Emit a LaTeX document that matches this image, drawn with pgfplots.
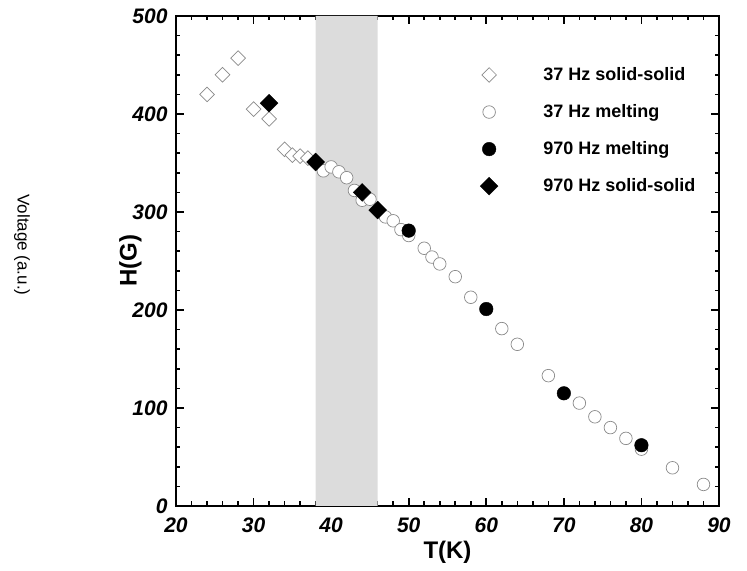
\documentclass[border=0pt]{standalone}
\usepackage{fontspec}
\setmainfont{Liberation Sans}
\usepackage{pgfplots}
\pgfplotsset{compat=1.18}
\definecolor{shade}{HTML}{DCDCDC}
\definecolor{edge}{HTML}{8A8A8A}

\begin{document}
\begin{tikzpicture}
\begin{axis}[
  scale only axis,
  width=543pt, height=490pt,
  xmin=20, xmax=90, ymin=0, ymax=500,
  xtick={20,30,...,90}, ytick={0,100,...,500},
  minor x tick num=4, minor y tick num=4,
  tick pos=both, tick align=inside,
  major tick length=8pt, minor tick length=4.5pt,
  axis line style={line width=2.4pt},
  every tick/.style={black, line width=1.6pt},
  /pgf/number format/assume math mode=true,
  ticklabel style={font=\fontsize{21}{24}\selectfont\bfseries\itshape},
  xticklabel style={yshift=-8pt},
  yticklabel style={xshift=-5pt},
  xlabel={T(K)}, ylabel={H(G)},
  label style={font=\fontsize{24}{28}\selectfont\bfseries},
  xlabel style={yshift=-2pt},
  ylabel style={yshift=-16pt},
  legend style={at={(0.552,0.903)}, anchor=north west, draw=none, fill=none,
    font=\fontsize{18}{21}\selectfont\bfseries, row sep=18.5pt},
  legend cell align=left,
  legend image code/.code={\path (0pt,0pt) (62pt,0pt);
    \draw[mark repeat=2,mark phase=2,#1] plot coordinates {(0pt,0pt) (10pt,0pt) (62pt,0pt)};},
]
% shaded band
\addplot[fill=shade, draw=none, forget plot] coordinates {(38,0) (38,500) (46,500) (46,0)} \closedcycle;

% 37 Hz solid-solid
\addplot[only marks, mark=square*, mark size=5.2pt,
  mark options={rotate=45, fill=white, draw=edge, line width=0.7pt}]
  coordinates {(24,420) (26,440) (28,457) (30,405) (32,395) (34,364) (35,358) (36,357) (37,355)};
\addlegendentry{37 Hz solid-solid}

% 37 Hz melting
\addplot[only marks, mark=*, mark size=6.3pt,
  mark options={fill=white, draw=edge, line width=0.7pt}]
  coordinates {(39,342) (40,346) (41,341) (42,335) (43,322) (44,312) (45,313)
    (47,295) (48,291) (49,282) (50,276) (52,263) (53,254) (54,247) (56,234)
    (58,213) (62,181) (64,165) (68,133) (72,105) (74,91) (76,80) (78,69)
    (80,58) (84,39) (88,22)};
\addlegendentry{37 Hz melting}

% 970 Hz melting
\addplot[only marks, mark=*, mark size=6.8pt, mark options={fill=black, draw=black}]
  coordinates {(50,281) (60,201) (70,115) (80,62)};
\addlegendentry{970 Hz melting}

% 970 Hz solid-solid
\addplot[only marks, mark=square*, mark size=6.3pt,
  mark options={rotate=45, fill=black, draw=black}]
  coordinates {(32,411) (38,351) (44,320) (46,302)};
\addlegendentry{970 Hz solid-solid}
\end{axis}
\node[rotate=-90, font=\fontsize{17}{19}\selectfont]
  at ([xshift=-154pt,yshift=261pt]current axis.south west) {Voltage (a.u.)};
\path (current axis.south west) ++(-176pt,-65pt);
\path (current axis.north east) ++(28pt,16pt);
\end{tikzpicture}
\end{document}
